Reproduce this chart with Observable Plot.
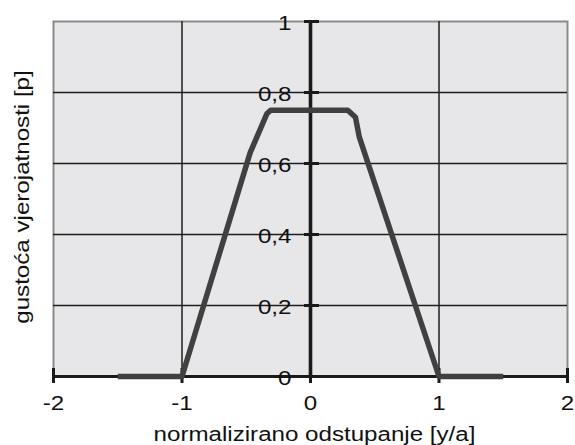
<!DOCTYPE html>
<html>
<head>
<meta charset="utf-8">
<script src="https://cdn.jsdelivr.net/npm/d3@7"></script>
<script src="https://cdn.jsdelivr.net/npm/@observablehq/plot@0.6"></script>
<style>
  html, body { margin: 0; padding: 0; background: #fff; }
  #chart svg { display: block; }
</style>
</head>
<body>
<div id="chart"></div>
<script>
// Data
const xValues = [-1.5, -1, -0.84, -0.47, -0.34, -0.31, 0.29, 0.35, 0.38, 1, 1.5];
const yValues = [0, 0, 0.19, 0.63, 0.74, 0.75, 0.75, 0.73, 0.674, 0, 0];
const xTicks = [-2, -1, 0, 1, 2];
const yTicks = [0, 0.2, 0.4, 0.6, 0.8, 1];
const xGrid = [-1, 1];
const yGrid = [0.2, 0.4, 0.6, 0.8];
const xTitle = "normalizirano odstupanje [y/a]";
const yTitle = "gustoća vjerojatnosti [p]";

const points = xValues.map((x, i) => ({x, y: yValues[i]}));
const fmt = d => String(d).replace(".", ",");

const chart = Plot.plot({
  width: 575,
  height: 445,
  marginLeft: 53,
  marginRight: 8,
  marginTop: 21,
  marginBottom: 69,
  style: {fontFamily: "'Liberation Sans', Arial, sans-serif", background: "#fff", overflow: "visible"},
  x: {domain: [-2, 2], axis: null},
  y: {domain: [0, 1], axis: null},
  marks: [
    Plot.frame({fill: "#e7e7e9", stroke: "#8c8c8c", strokeWidth: 2}),
    Plot.ruleX(xGrid, {stroke: "#1e1e1e", strokeWidth: 1.5}),
    Plot.ruleY(yGrid, {stroke: "#1e1e1e", strokeWidth: 1.5}),
    Plot.ruleY([0], {stroke: "#1a1a1a", strokeWidth: 3.2}),
    Plot.ruleX([0], {stroke: "#1a1a1a", strokeWidth: 3.6}),
    Plot.ruleX(xTicks, {y1: 0, y2: 0, insetTop: -8, insetBottom: -7, stroke: "#1a1a1a", strokeWidth: 3}),
    Plot.ruleY(yTicks, {x1: 0, x2: 0, insetLeft: -6, insetRight: -9, stroke: "#1a1a1a", strokeWidth: 3}),
    Plot.text(yTicks, {x: 0, y: d => d, text: fmt, textAnchor: "end", lineAnchor: "middle", dx: -19, dy: 2, fontSize: 21, fill: "#111"}),
    Plot.text(xTicks, {x: d => d, y: 0, text: fmt, textAnchor: "middle", lineAnchor: "middle", dy: 27, fontSize: 21, fill: "#111"}),
    Plot.line(points, {x: "x", y: "y", stroke: "#404040", strokeWidth: 5.5, strokeLinejoin: "round", strokeLinecap: "butt"}),
    Plot.text([xTitle], {frameAnchor: "bottom", text: d => d, textAnchor: "middle", lineAnchor: "middle", dy: 58, dx: 4, fontSize: 21, fill: "#111"}),
    Plot.text([yTitle], {frameAnchor: "left", text: d => d, rotate: -90, textAnchor: "middle", lineAnchor: "middle", dx: -31, dy: -2, fontSize: 21, fill: "#111"})
  ]
});

document.getElementById("chart").appendChild(chart);

// Widen glyphs along the writing direction to match the reference's wide lettering
const yTickSet = new Set(yTicks.map(fmt));
const xTickSet = new Set(xTicks.map(fmt));
chart.querySelectorAll("text").forEach(t => {
  const s = t.textContent;
  let k = 1, anchor = "middle";
  const holder = t.closest("[text-anchor]");
  const ta = t.getAttribute("text-anchor") || (holder && holder.getAttribute("text-anchor")) || "middle";
  if (xTickSet.has(s) || yTickSet.has(s)) { k = 1.15; anchor = ta; }
  else if (s === xTitle || s === yTitle) { k = 1.15; }
  if (k === 1) return;
  const b = t.getBBox();
  const ax = anchor === "end" ? b.x + b.width : anchor === "start" ? b.x : b.x + b.width / 2;
  const tr = t.getAttribute("transform") || "";
  t.setAttribute("transform", `${tr} translate(${ax},0) scale(${k},1) translate(${-ax},0)`);
});
</script>
</body>
</html>
